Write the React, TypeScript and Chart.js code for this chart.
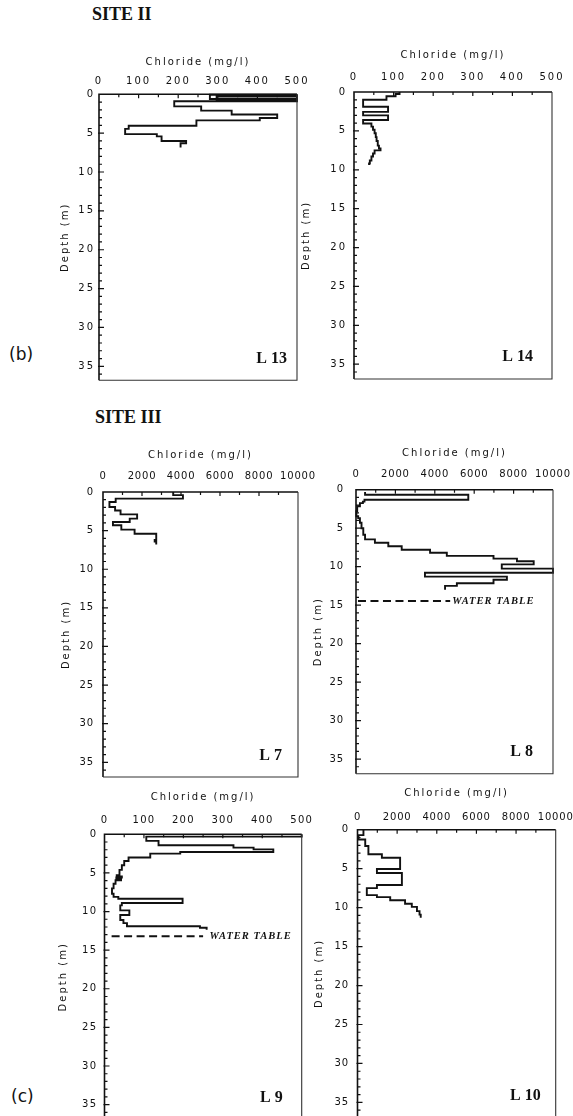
import React, { useEffect, useRef } from 'react';
import { Chart, registerables } from 'chart.js';

Chart.register(...registerables);
Chart.defaults.font.family = "'DejaVu Sans', sans-serif";
Chart.defaults.font.size = 10;
Chart.defaults.color = '#111';

// ---------- DATA (depth in m, chloride in mg/l; each value holds from its depth down to the next depth) ----------
const L13_DEPTH = [0, 0.05, 0.6, 0.3, 0.85, 0.9, 1.55, 2.1, 2.6, 3.05, 3.35, 4.05, 4.45, 5.12, 5.42, 6.0, 6.3, 6.85];
const L13_CL = [500, 280, 500, 297, 500, 190, 258, 335, 450, 406, 246, 75, 66, 146, 158, 220, 206, 206];

const L14_DEPTH = [0, 0.25, 0.55, 1.0, 1.9, 2.55, 3.0, 3.6, 4.05, 4.45, 4.85, 5.3, 5.8, 6.3, 6.9, 7.25, 7.5, 7.9, 8.3, 8.8, 9.2, 9.4];
const L14_CL = [115, 105, 82, 23, 86, 23, 86, 23, 44, 48, 52, 55, 57, 60, 63, 67, 52, 48, 44, 40, 38, 38];

const L7_DEPTH = [0, 0.4, 0.86, 1.3, 1.95, 2.4, 2.9, 3.45, 3.88, 4.3, 4.87, 5.4, 6.2, 6.4, 6.8];
const L7_CL = [3600, 4100, 650, 330, 620, 900, 1750, 1370, 510, 940, 1620, 2730, 2650, 2730, 2730];

const L8_DEPTH = [0.3, 0.65, 1.3, 1.55, 1.75, 2.15, 2.8, 3.45, 3.7, 4.3, 5.0, 5.85, 6.45, 6.9, 7.35, 7.8, 8.2, 8.6, 8.95, 9.3, 9.7, 10.25, 10.8, 11.3, 11.7, 12.15, 12.5, 13.0];
const L8_CL = [460, 5700, 430, 350, 200, 60, 20, 110, 200, 280, 370, 460, 960, 1640, 2320, 3760, 4610, 6980, 8170, 9020, 7400, 10000, 3500, 7660, 6980, 5120, 4520, 4520];
const L8_WATER_TABLE = { depth: 14.45, from: 100, to: 4780, textAt: 4880 };

const L9_DEPTH = [0, 0.3, 0.85, 1.42, 1.72, 1.95, 2.3, 2.5, 3.0, 3.45, 4.0, 4.6, 5.3, 5.45, 5.6, 5.75, 5.95, 6.4, 7.0, 7.7, 8.1, 8.35, 8.9, 9.2, 9.85, 10.45, 11.1, 11.5, 11.9, 12.1, 12.35];
const L9_CL = [500, 106, 137, 327, 378, 428, 192, 116, 61, 50, 44, 38, 31, 44, 30, 42, 28, 23, 19, 23, 35, 198, 44, 40, 63, 40, 48, 57, 242, 259, 259];
const L9_WATER_TABLE = { depth: 13.2, from: 18, to: 250, textAt: 266 };

const L10_DEPTH = [0, 0.7, 1.25, 2.1, 3.15, 3.6, 5.05, 5.55, 7.1, 7.5, 8.4, 8.65, 9.05, 9.5, 9.9, 10.45, 10.9, 11.3];
const L10_CL = [300, 50, 390, 550, 1230, 2150, 980, 2240, 980, 470, 980, 1650, 2400, 2740, 3000, 3130, 3190, 3190];

const X_TITLE = 'Chloride (mg/l)';
const Y_TITLE = 'Depth (m)';
const WT_TEXT = 'WATER TABLE';

// ---------- LAYOUT ----------
type Rect = { l: number; t: number; r: number; b: number };
type WT = { depth: number; from: number; to: number; textAt: number } | null;
type Spec = {
  label: string; plot: Rect; titleCY: number; tickCY: number; yLabR: number; depthCX: number; tickSp: number; labelInset: number;
  xMax: number; xStep: number; yMax: number; depths: number[]; cl: number[]; wt: WT;
};

const PANELS: Spec[] = [
  { label: 'L 13', plot: { l: 99, t: 94, r: 297, b: 380 }, titleCY: 61.7, tickCY: 81, yLabR: 93, depthCX: 65, tickSp: 2, labelInset: 10, xMax: 500, xStep: 100, yMax: 36.8, depths: L13_DEPTH, cl: L13_CL, wt: null },
  { label: 'L 14', plot: { l: 354, t: 92, r: 552, b: 379 }, titleCY: 55, tickCY: 77.5, yLabR: 345, depthCX: 306, tickSp: 2, labelInset: 19, xMax: 500, xStep: 100, yMax: 36.9, depths: L14_DEPTH, cl: L14_CL, wt: null },
  { label: 'L 7', plot: { l: 103, t: 492, r: 298, b: 777 }, titleCY: 455, tickCY: 476.7, yLabR: 93, depthCX: 66, tickSp: 0.8, labelInset: 16, xMax: 10000, xStep: 2000, yMax: 36.9, depths: L7_DEPTH, cl: L7_CL, wt: null },
  { label: 'L 8', plot: { l: 356, t: 490, r: 553, b: 774 }, titleCY: 453.3, tickCY: 475, yLabR: 343, depthCX: 318, tickSp: 0.8, labelInset: 20, xMax: 10000, xStep: 2000, yMax: 36.9, depths: L8_DEPTH, cl: L8_CL, wt: L8_WATER_TABLE },
  { label: 'L 9', plot: { l: 104.5, t: 834, r: 301.7, b: 1119 }, titleCY: 796.7, tickCY: 820, yLabR: 96, depthCX: 63, tickSp: 1.2, labelInset: 19, xMax: 500, xStep: 100, yMax: 36.9, depths: L9_DEPTH, cl: L9_CL, wt: L9_WATER_TABLE },
  { label: 'L 10', plot: { l: 357.5, t: 830, r: 555.7, b: 1117.5 }, titleCY: 793.3, tickCY: 817.3, yLabR: 348, depthCX: 319, tickSp: 0.8, labelInset: 15, xMax: 10000, xStep: 2000, yMax: 36.9, depths: L10_DEPTH, cl: L10_CL, wt: null },
];

const PAD_R = 26;
const PAD_B = 14;
const TITLE_SPACING = '2px';

function patchScale(sc: any, ctx: any, tickSp: string) {
  if (sc.__patched) return;
  sc.__patched = true;
  const origTitle = sc.drawTitle;
  sc.drawTitle = function (...args: any[]) {
    ctx.letterSpacing = TITLE_SPACING;
    origTitle.apply(this, args);
    ctx.letterSpacing = tickSp;
  };
}

const framePlugin = {
  id: 'frame',
  beforeUpdate(chart: any, _a: any, opts: any) { chart.ctx.letterSpacing = opts.tickSp + 'px'; },
  beforeDraw(chart: any, _a: any, opts: any) {
    const sp = opts.tickSp + 'px';
    chart.ctx.letterSpacing = sp;
    patchScale(chart.scales.x, chart.ctx, sp);
    patchScale(chart.scales.y, chart.ctx, sp);
  },
  afterDraw(chart: any, _args: any, opts: any) {
    const { ctx, chartArea: a } = chart;
    const xs = chart.scales.x;
    const ys = chart.scales.y;
    ctx.save();
    ctx.lineCap = 'butt';
    // axes (top and left heavier)
    ctx.strokeStyle = '#111';
    ctx.lineWidth = 1.6;
    ctx.beginPath();
    ctx.moveTo(a.left, a.bottom);
    ctx.lineTo(a.left, a.top);
    ctx.lineTo(a.right, a.top);
    ctx.stroke();
    ctx.lineWidth = 1.1;
    ctx.strokeStyle = '#333';
    ctx.beginPath();
    ctx.moveTo(a.right, a.top);
    ctx.lineTo(a.right, a.bottom);
    ctx.lineTo(a.left, a.bottom);
    ctx.stroke();
    // inward ticks
    ctx.strokeStyle = '#111';
    ctx.lineWidth = 1.2;
    const half = opts.xStep / 2;
    ctx.beginPath();
    for (let v = half; v < xs.max - 1e-6; v += half) {
      const px = xs.getPixelForValue(v);
      const major = Math.abs(v / opts.xStep - Math.round(v / opts.xStep)) < 1e-6;
      ctx.moveTo(px, a.top);
      ctx.lineTo(px, a.top + (major ? 4 : 3));
    }
    for (let d = 1; d < ys.max; d += 1) {
      const py = ys.getPixelForValue(d);
      const major = d % 5 === 0;
      ctx.moveTo(a.left - (major ? 1 : 0), py);
      ctx.lineTo(a.left + (major ? 5 : 3), py);
    }
    ctx.stroke();
    // panel label
    ctx.letterSpacing = '0px';
    ctx.fillStyle = '#111';
    ctx.font = "bold 16px 'Liberation Serif', serif";
    ctx.textAlign = 'right';
    ctx.textBaseline = 'middle';
    ctx.fillText(opts.label, a.right - opts.labelInset, ys.getPixelForValue(34.1));
    // water table text
    if (opts.wt) {
      ctx.letterSpacing = '1px';
      ctx.font = "italic bold 10.5px 'Liberation Serif', serif";
      ctx.textAlign = 'left';
      ctx.fillText(WT_TEXT, xs.getPixelForValue(opts.wt.textAt), ys.getPixelForValue(opts.wt.depth) + 0.5);
    }
    ctx.restore();
    ctx.letterSpacing = opts.tickSp + 'px';
  },
};

function canvasBox(s: Spec) {
  const l = s.depthCX - 10;
  const t = s.titleCY - 10;
  const r = s.plot.r + PAD_R;
  const b = s.plot.b + PAD_B;
  return { l, t, w: Math.round(r - l), h: Math.round(b - t) };
}

const plainNumber = (v: any) => String(v);

function makeConfig(s: Spec): any {
  const box = canvasBox(s);
  const pts = s.depths.map((d, i) => ({ x: s.cl[i], y: d }));
  const datasets: any[] = [
    { data: pts, borderColor: '#111', borderWidth: 1.9, pointRadius: 0, stepped: 'after', fill: false, tension: 0, clip: false, borderJoinStyle: 'miter' },
  ];
  if (s.wt) {
    datasets.push({
      data: [{ x: s.wt.from, y: s.wt.depth }, { x: s.wt.to, y: s.wt.depth }],
      borderColor: '#111', borderWidth: 2, borderDash: [8, 4.5], pointRadius: 0, fill: false, clip: false,
    });
  }
  return {
    type: 'line',
    data: { datasets },
    options: {
      animation: false,
      responsive: false,
      devicePixelRatio: 1,
      events: [],
      layout: { padding: { left: 0, top: 0, right: box.l + box.w - s.plot.r, bottom: box.t + box.h - s.plot.b } },
      plugins: {
        legend: { display: false },
        tooltip: { enabled: false },
        frame: { label: s.label, labelInset: s.labelInset, xStep: s.xStep, wt: s.wt, tickSp: s.tickSp },
      },
      scales: {
        x: {
          type: 'linear', position: 'top', min: 0, max: s.xMax,
          grid: { display: false, drawTicks: false }, border: { display: false },
          ticks: { stepSize: s.xStep, callback: plainNumber, padding: s.plot.t - s.tickCY - 6, maxRotation: 0, autoSkip: false, includeBounds: false, color: '#111', font: { size: 10 } },
          title: { display: true, text: X_TITLE, color: '#111', font: { size: 10 }, padding: { top: 4, bottom: 0 } },
          afterFit: (sc: any) => {
            sc.height = s.plot.t - box.t;
            sc.paddingLeft = 0; sc.paddingRight = 0; sc.paddingTop = 0; sc.paddingBottom = 0;
          },
        },
        y: {
          type: 'linear', position: 'left', reverse: true, min: 0, max: s.yMax,
          grid: { display: false, drawTicks: false }, border: { display: false },
          ticks: { stepSize: 5, callback: plainNumber, padding: s.plot.l - s.yLabR - s.tickSp, autoSkip: false, includeBounds: false, color: '#111', font: { size: 10 } },
          title: { display: true, text: Y_TITLE, color: '#111', font: { size: 10 }, padding: { top: 4, bottom: 0 } },
          afterFit: (sc: any) => {
            sc.width = s.plot.l - box.l;
            sc.paddingLeft = 0; sc.paddingRight = 0; sc.paddingTop = 0; sc.paddingBottom = 0;
          },
        },
      },
    },
    plugins: [framePlugin],
  };
}

function Panel({ spec }: { spec: Spec }) {
  const ref = useRef<HTMLCanvasElement>(null);
  const box = canvasBox(spec);
  useEffect(() => {
    const chart = new Chart(ref.current as HTMLCanvasElement, makeConfig(spec));
    return () => chart.destroy();
  }, []);
  return (
    <canvas
      ref={ref}
      width={box.w}
      height={box.h}
      style={{ position: 'absolute', left: box.l, top: box.t, width: box.w, height: box.h }}
    />
  );
}

const heading: React.CSSProperties = {
  position: 'absolute', font: "bold 18px 'Liberation Serif', serif", lineHeight: '18px', color: '#111', whiteSpace: 'nowrap',
};
const tag: React.CSSProperties = {
  position: 'absolute', font: "17px 'DejaVu Sans', sans-serif", lineHeight: '17px', color: '#111', whiteSpace: 'nowrap',
};

export default function App() {
  return (
    <div style={{ position: 'fixed', left: 0, top: 0, width: 573, height: 1116, overflow: 'hidden', background: '#fff' }}>
      <div style={{ ...heading, left: 92, top: 4.6 }}>SITE II</div>
      <div style={{ ...heading, left: 95, top: 408.4 }}>SITE III</div>
      <div style={{ ...tag, left: 9, top: 346 }}>(b)</div>
      <div style={{ ...tag, left: 11, top: 1088 }}>(c)</div>
      {PANELS.map((p) => (
        <Panel key={p.label} spec={p} />
      ))}
    </div>
  );
}
